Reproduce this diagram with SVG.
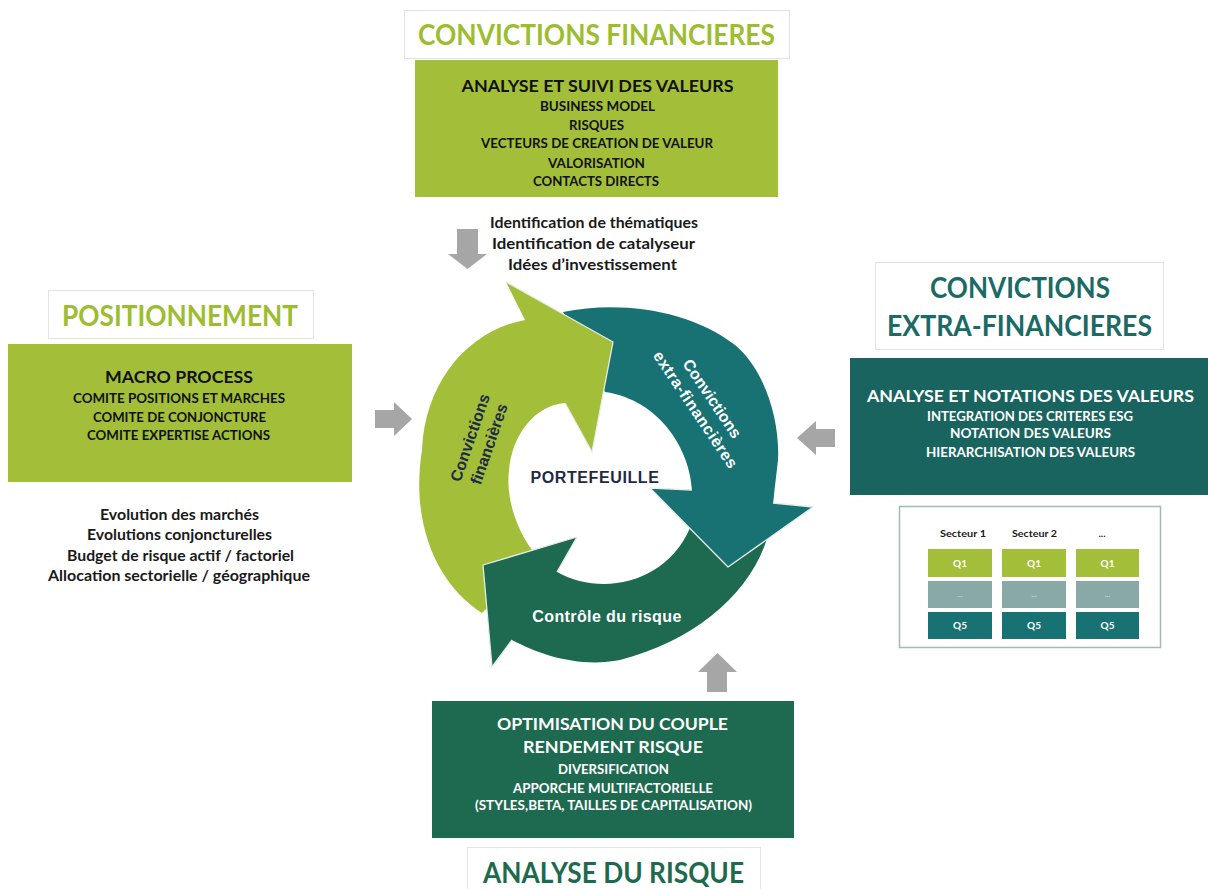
<svg xmlns="http://www.w3.org/2000/svg" width="1208" height="889" viewBox="0 0 1208 889">
<style>
.title{font-family:Lato,"Open Sans","Liberation Sans",sans-serif;font-weight:700;font-size:28px;text-anchor:middle}
.head{font-family:Lato,"Open Sans","Liberation Sans",sans-serif;font-weight:700;font-size:17px;text-anchor:middle}
.sub{font-family:Lato,"Open Sans","Liberation Sans",sans-serif;font-weight:700;font-size:13px;text-anchor:middle}
.note{font-family:Lato,"Open Sans","Liberation Sans",sans-serif;font-weight:700;font-size:14.5px;text-anchor:middle;fill:#1a1a1a}
.cyc{font-family:"Liberation Sans",Arial,sans-serif;font-weight:700;font-size:16px;text-anchor:middle}
.cell{font-family:Lato,"Liberation Sans",sans-serif;font-weight:700;font-size:10px;text-anchor:middle;fill:#ffffff}
.tbox{fill:#ffffff;stroke:#e3e3e3;stroke-width:1}
.garrow{fill:#a6a6a6}
.lg{fill:#a3bf3a}
.tl{fill:#187273}
.dg{fill:#1e6a50}
.edge{fill:none;stroke:#e8ece8;stroke-width:1.3;stroke-linejoin:round}
</style>

<g id="connectors">
  <polygon class="garrow" points="457,229 478,229 478,254 487,254 467.5,269 448,254 457,254"/>
  <polygon class="garrow" points="375,410 394,410 394,402 412,419 394,436 394,428 375,428"/>
  <polygon class="garrow" points="835,429 816,429 816,421 797,438 816,455 816,447 835,447"/>
  <polygon class="garrow" points="707,692 727,692 727,672 737,672 717.5,653 698,672 707,672"/>
</g>

<g id="cycle">
  <path id="arrow-extra" class="tl" d="M563,312 C620,300 690,310 735,345 C765,370 780,420 778,460 L773,503 L813,507 L728,567 L650,488 L692,490 C690,450 660,400 605,392 Z"/>
  <path id="arrow-risque" class="dg" d="M770,525 C760,585 700,640 620,660 C580,668 540,655 512,640 L492,667 L483,565 L577,537 L557,572 C600,596 665,585 690,528 L700,520 L770,522 Z"/>
  <path id="arrow-fin" class="lg" d="M482,613 L538,557 C522,540 505,505 509,470 C512,435 535,405 565,403 L592,452 L613,342 L506,282 L525,320 C470,330 425,380 422,450 C410,525 438,585 482,613 Z"/>
  <polygon class="dg" points="483,565 577,537 557,572 570,582 535,646 512,640 492,667"/>
  <polygon class="tl" points="773,503 813,507 728,567 650,488 692,490 695,475 775,470"/>
  <polyline class="edge" points="506,282 613,342 592,452 565,403"/>
  <polyline class="edge" points="512,640 492,667 483,565 577,537 557,572"/>
  <polyline class="edge" points="773,503 813,507 728,567 650,488 692,490"/>
  <g transform="translate(480,441) rotate(-71)">
    <text class="cyc" fill="#1f2a44" x="0" y="-5">Convictions</text>
    <text class="cyc" fill="#1f2a44" x="0" y="15">financières</text>
  </g>
  <g transform="translate(703.5,404.5) rotate(56)">
    <text class="cyc" fill="#ffffff" x="0" y="-5">Convictions</text>
    <text class="cyc" fill="#ffffff" x="0" y="15" letter-spacing="0.6">extra-financières</text>
  </g>
  <text class="cyc" fill="#1f2a44" x="595" y="483" letter-spacing="0.6">PORTEFEUILLE</text>
  <text class="cyc" fill="#ffffff" x="607" y="622" letter-spacing="0.4">Contrôle du risque</text>
</g>

<g id="node-convictions-financieres">
  <rect class="tbox" x="404.5" y="10.5" width="385" height="48"/>
  <text class="title" fill="#9cbd30" x="596.5" y="45" textLength="357" lengthAdjust="spacingAndGlyphs">CONVICTIONS FINANCIERES</text>
  <rect class="lg" x="415" y="60" width="363" height="137"/>
  <text class="head" fill="#111" x="597.5" y="92" textLength="272" lengthAdjust="spacingAndGlyphs">ANALYSE ET SUIVI DES VALEURS</text>
  <text class="sub" fill="#111" x="597.5" y="111" textLength="115" lengthAdjust="spacingAndGlyphs">BUSINESS MODEL</text>
  <text class="sub" fill="#111" x="596.5" y="130" textLength="55" lengthAdjust="spacingAndGlyphs">RISQUES</text>
  <text class="sub" fill="#111" x="597" y="148" textLength="232" lengthAdjust="spacingAndGlyphs">VECTEURS DE CREATION DE VALEUR</text>
  <text class="sub" fill="#111" x="596.5" y="168" textLength="97" lengthAdjust="spacingAndGlyphs">VALORISATION</text>
  <text class="sub" fill="#111" x="596" y="186" textLength="126" lengthAdjust="spacingAndGlyphs">CONTACTS DIRECTS</text>
  <text class="note" x="594" y="228" textLength="208" lengthAdjust="spacingAndGlyphs">Identification de thématiques</text>
  <text class="note" x="593.5" y="249" textLength="203" lengthAdjust="spacingAndGlyphs">Identification de catalyseur</text>
  <text class="note" x="592.5" y="270" textLength="169" lengthAdjust="spacingAndGlyphs">Idées d’investissement</text>
</g>

<g id="node-positionnement">
  <rect class="tbox" x="48.5" y="290.5" width="265" height="48"/>
  <text class="title" fill="#9cbd30" x="180" y="326" textLength="236" lengthAdjust="spacingAndGlyphs">POSITIONNEMENT</text>
  <rect class="lg" x="8" y="344" width="344" height="138"/>
  <text class="head" fill="#111" x="179" y="383" textLength="148" lengthAdjust="spacingAndGlyphs">MACRO PROCESS</text>
  <text class="sub" fill="#111" x="179" y="403" textLength="212" lengthAdjust="spacingAndGlyphs">COMITE POSITIONS ET MARCHES</text>
  <text class="sub" fill="#111" x="179.5" y="422" textLength="173" lengthAdjust="spacingAndGlyphs">COMITE DE CONJONCTURE</text>
  <text class="sub" fill="#111" x="178.5" y="440" textLength="183" lengthAdjust="spacingAndGlyphs">COMITE EXPERTISE ACTIONS</text>
  <text class="note" x="179.5" y="520" textLength="159" lengthAdjust="spacingAndGlyphs">Evolution des marchés</text>
  <text class="note" x="179.5" y="540" textLength="185" lengthAdjust="spacingAndGlyphs">Evolutions conjoncturelles</text>
  <text class="note" x="180.5" y="561" textLength="227" lengthAdjust="spacingAndGlyphs">Budget de risque actif / factoriel</text>
  <text class="note" x="179" y="581" textLength="262" lengthAdjust="spacingAndGlyphs">Allocation sectorielle / géographique</text>
</g>

<g id="node-extra-financieres">
  <rect class="tbox" x="875.5" y="262.5" width="288" height="87"/>
  <text class="title" fill="#1b6a66" x="1020" y="298" textLength="180" lengthAdjust="spacingAndGlyphs">CONVICTIONS</text>
  <text class="title" fill="#1b6a66" x="1019.5" y="336" textLength="265" lengthAdjust="spacingAndGlyphs">EXTRA-FINANCIERES</text>
  <rect fill="#19645f" x="850" y="358" width="358" height="137"/>
  <text class="head" fill="#ffffff" x="1030.5" y="402" textLength="327" lengthAdjust="spacingAndGlyphs">ANALYSE ET NOTATIONS DES VALEURS</text>
  <text class="sub" fill="#ffffff" x="1030" y="421" textLength="206" lengthAdjust="spacingAndGlyphs">INTEGRATION DES CRITERES ESG</text>
  <text class="sub" fill="#ffffff" x="1030.5" y="438" textLength="161" lengthAdjust="spacingAndGlyphs">NOTATION DES VALEURS</text>
  <text class="sub" fill="#ffffff" x="1030.5" y="457" textLength="209" lengthAdjust="spacingAndGlyphs">HIERARCHISATION DES VALEURS</text>
</g>

<g id="node-grille">
  <rect x="899.5" y="506.5" width="261" height="141" fill="#ffffff" stroke="#9dbcb5" stroke-width="1.5"/>
  <text class="cell" fill="#1a1a1a" style="fill:#1a1a1a" x="963" y="537" textLength="46" lengthAdjust="spacingAndGlyphs">Secteur 1</text>
  <text class="cell" style="fill:#1a1a1a" x="1034.5" y="537" textLength="45" lengthAdjust="spacingAndGlyphs">Secteur 2</text>
  <text class="cell" style="fill:#1a1a1a" x="1102" y="537">...</text>
  <rect class="lg" x="928" y="549" width="64" height="28"/>
  <rect class="lg" x="1002" y="549" width="64" height="28"/>
  <rect class="lg" x="1076" y="549" width="63" height="28"/>
  <rect fill="#88a9a6" x="928" y="581" width="64" height="27"/>
  <rect fill="#88a9a6" x="1002" y="581" width="64" height="27"/>
  <rect fill="#88a9a6" x="1076" y="581" width="63" height="27"/>
  <rect fill="#187273" x="928" y="612" width="64" height="27"/>
  <rect fill="#187273" x="1002" y="612" width="64" height="27"/>
  <rect fill="#187273" x="1076" y="612" width="63" height="27"/>
  <text class="cell" x="960" y="567">Q1</text>
  <text class="cell" x="1034" y="567">Q1</text>
  <text class="cell" x="1107.5" y="567">Q1</text>
  <text class="cell" style="fill:#c9d8d6;font-size:8px" x="960" y="597">...</text>
  <text class="cell" style="fill:#c9d8d6;font-size:8px" x="1034" y="597">...</text>
  <text class="cell" style="fill:#c9d8d6;font-size:8px" x="1107.5" y="597">...</text>
  <text class="cell" x="960" y="629">Q5</text>
  <text class="cell" x="1034" y="629">Q5</text>
  <text class="cell" x="1107.5" y="629">Q5</text>
</g>

<g id="node-analyse-risque">
  <rect fill="#1e6a50" x="432" y="701" width="362" height="137"/>
  <text class="head" fill="#ffffff" x="612.5" y="730" textLength="231" lengthAdjust="spacingAndGlyphs">OPTIMISATION DU COUPLE</text>
  <text class="head" fill="#ffffff" x="613" y="753" textLength="180" lengthAdjust="spacingAndGlyphs">RENDEMENT RISQUE</text>
  <text class="sub" fill="#ffffff" x="613.5" y="774" textLength="111" lengthAdjust="spacingAndGlyphs">DIVERSIFICATION</text>
  <text class="sub" fill="#ffffff" x="613" y="793" textLength="200" lengthAdjust="spacingAndGlyphs">APPORCHE MULTIFACTORIELLE</text>
  <text class="sub" fill="#ffffff" x="613.5" y="810" textLength="277" lengthAdjust="spacingAndGlyphs">(STYLES,BETA, TAILLES DE CAPITALISATION)</text>
  <rect class="tbox" x="467.5" y="847.5" width="293" height="50"/>
  <text class="title" fill="#1e6a4f" x="613.5" y="883" textLength="261" lengthAdjust="spacingAndGlyphs">ANALYSE DU RISQUE</text>
</g>
</svg>
